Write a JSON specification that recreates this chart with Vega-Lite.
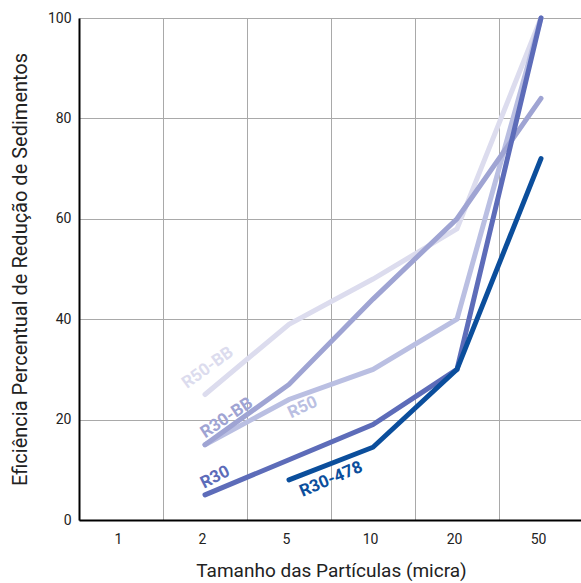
{
  "$schema": "https://vega.github.io/schema/vega-lite/v6.json",
  "width": 504,
  "height": 502,
  "autosize": {"type": "none"},
  "padding": {"left": 79, "top": 18, "right": 0, "bottom": 63},
  "background": "white",
  "config": {
    "view": {"stroke": null},
    "font": "Roboto",
    "axis": {"gridColor": "#a9a9a9", "gridWidth": 1, "gridOpacity": 1, "ticks": false, "domainColor": "#000000", "domainWidth": 2, "labelColor": "#222222", "titleColor": "#222222", "labelFont": "Roboto", "titleFont": "Roboto", "titleFontWeight": "normal"},
    "text": {"fontWeight": "bold", "fontSize": 17, "font": "Roboto", "align": "center", "baseline": "middle"}
  },
  "datasets": {
    "series": [
      {"serie": "R50-BB", "size": 2, "pct": 25},
      {"serie": "R50-BB", "size": 5, "pct": 39},
      {"serie": "R50-BB", "size": 10, "pct": 48},
      {"serie": "R50-BB", "size": 20, "pct": 58},
      {"serie": "R50-BB", "size": 50, "pct": 100},
      {"serie": "R50", "size": 2, "pct": 15},
      {"serie": "R50", "size": 5, "pct": 24},
      {"serie": "R50", "size": 10, "pct": 30},
      {"serie": "R50", "size": 20, "pct": 40},
      {"serie": "R50", "size": 50, "pct": 100},
      {"serie": "R30-BB", "size": 2, "pct": 15},
      {"serie": "R30-BB", "size": 5, "pct": 27},
      {"serie": "R30-BB", "size": 10, "pct": 44},
      {"serie": "R30-BB", "size": 20, "pct": 60},
      {"serie": "R30-BB", "size": 50, "pct": 84},
      {"serie": "R30", "size": 2, "pct": 5},
      {"serie": "R30", "size": 5, "pct": 12},
      {"serie": "R30", "size": 10, "pct": 19},
      {"serie": "R30", "size": 20, "pct": 30},
      {"serie": "R30", "size": 50, "pct": 100},
      {"serie": "R30-478", "size": 5, "pct": 8},
      {"serie": "R30-478", "size": 10, "pct": 14.5},
      {"serie": "R30-478", "size": 20, "pct": 30},
      {"serie": "R30-478", "size": 50, "pct": 72}
    ]
  },
  "data": {"name": "series"},
  "encoding": {
    "x": {"field": "size", "type": "ordinal",
          "scale": {"domain": [1, 2, 5, 10, 20, 50], "paddingInner": 0, "paddingOuter": 0},
          "axis": {"title": "Tamanho das Partículas (micra)", "labelAngle": 0, "labelFontSize": 14, "labelPadding": 12, "labelOffset": -3, "titleFontSize": 19, "titlePadding": 15, "grid": true, "tickBand": "extent"}},
    "y": {"field": "pct", "type": "quantitative",
          "scale": {"domain": [0, 100], "nice": false},
          "axis": {"title": "Eficiência Percentual de Redução de Sedimentos", "values": [0, 20, 40, 60, 80, 100], "labelFontSize": 14, "labelPadding": 8, "titleFontSize": 20, "titlePadding": 17, "grid": true}},
    "color": {"field": "serie", "type": "nominal", "legend": null,
              "scale": {"domain": ["R50-BB", "R50", "R30-BB", "R30", "R30-478"], "range": ["#dcdcee", "#babfe2", "#9fa4d3", "#5d6cb9", "#0b4e9c"]}}
  },
  "layer": [
    {
      "mark": {"type": "line", "strokeWidth": 5, "strokeCap": "round", "strokeJoin": "miter"}
    },
    {
      "transform": [{"filter": "datum.serie == 'R50-BB' && datum.size == 2"}],
      "mark": {"type": "text", "dx": 18, "dy": -20, "angle": -36},
      "encoding": {"text": {"field": "serie"}}
    },
    {
      "transform": [{"filter": "datum.serie == 'R30-BB' && datum.size == 2"}],
      "mark": {"type": "text", "dx": 33, "dy": -10, "angle": -34},
      "encoding": {"text": {"field": "serie"}}
    },
    {
      "transform": [{"filter": "datum.serie == 'R50' && datum.size == 5"}],
      "mark": {"type": "text", "dx": 9, "dy": 13, "angle": -25},
      "encoding": {"text": {"field": "serie"}}
    },
    {
      "transform": [{"filter": "datum.serie == 'R30' && datum.size == 2"}],
      "mark": {"type": "text", "dx": 17, "dy": -11, "angle": -27},
      "encoding": {"text": {"field": "serie"}}
    },
    {
      "transform": [{"filter": "datum.serie == 'R30-478' && datum.size == 5"}],
      "mark": {"type": "text", "dx": 39, "dy": 16, "angle": -23},
      "encoding": {"text": {"field": "serie"}}
    }
  ]
}
